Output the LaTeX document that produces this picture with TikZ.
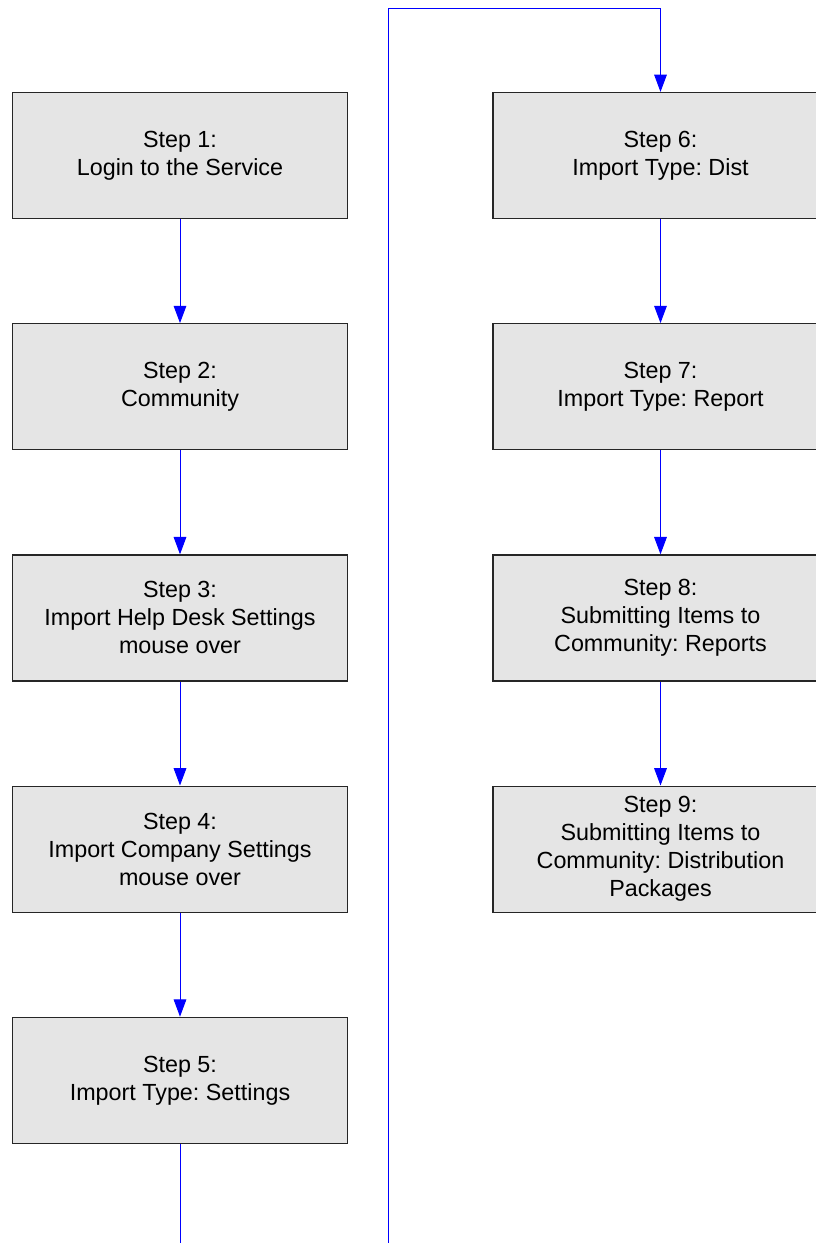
\documentclass[tikz,border=0pt]{standalone}
\usepackage{fontspec}
\setmainfont{Liberation Sans}
\frenchspacing
\usetikzlibrary{positioning,arrows.meta}

\begin{document}
\begin{tikzpicture}[x=0.75pt,y=0.75pt,
    stepbox/.style={draw=black!85,fill=black!10,line width=0.9pt,
        minimum width=251.25pt,minimum height=94.5pt,inner sep=0pt,
        align=center,font=\fontsize{17.5}{21}\selectfont\frenchspacing},
    flow/.style={draw=blue,line width=0.75pt,-{Triangle[width=9.5pt,length=13pt]}},
    node distance=78pt]
    \useasboundingbox (0,0) rectangle (816,-1243);
    % left column
    \node[stepbox] (s1) at (180,-155.5) {Step 1:\\Login to the Service};
    \node[stepbox,below=of s1] (s2) {Step 2:\\Community};
    \node[stepbox,below=of s2] (s3) {Step 3:\\Import Help Desk Settings\\mouse over};
    \node[stepbox,below=of s3] (s4) {Step 4:\\Import Company Settings\\mouse over};
    \node[stepbox,below=of s4] (s5) {Step 5:\\Import Type: Settings};
    % right column
    \node[stepbox] (s6) at (660.5,-155.5) {Step 6:\\Import Type: Dist};
    \node[stepbox,below=of s6] (s7) {Step 7:\\Import Type: Report};
    \node[stepbox,below=of s7] (s8) {Step 8:\\Submitting Items to\\Community: Reports};
    \node[stepbox,below=of s8] (s9) {Step 9:\\Submitting Items to\\Community: Distribution\\Packages};
    % connectors
    \draw[flow] (s1) -- (s2);
    \draw[flow] (s2) -- (s3);
    \draw[flow] (s3) -- (s4);
    \draw[flow] (s4) -- (s5);
    \coordinate (low) at (388.5,-1250);
    \coordinate (high) at (388.5,-8);
    \draw[flow] (s5.south) |- (low) -- (high) -| (s6.north);
    \draw[flow] (s6) -- (s7);
    \draw[flow] (s7) -- (s8);
    \draw[flow] (s8) -- (s9);
\end{tikzpicture}
\end{document}
